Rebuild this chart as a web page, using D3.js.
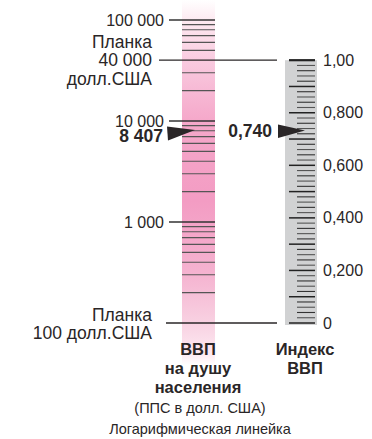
<!DOCTYPE html>
<html>
<head>
<meta charset="utf-8">
<script src="https://cdn.jsdelivr.net/npm/d3@7"></script>
<style>
  html, body { margin: 0; padding: 0; background: #fff; }
  svg { display: block; font-family: "Liberation Sans", Arial, sans-serif; }
</style>
</head>
<body>
<div id="chart"></div>
<script>
// GDP per capita scale (log), labelled decades
const gdpDomain = [100, 100000];
const gdpLabelled = [1000, 10000, 100000];
const gdpLabelText = ['1 000', '10 000', '100 000'];

// Goalposts
const goalValues = [40000, 100];
const goalLines = [['Планка', '40 000', 'долл.США'], ['Планка', '100 долл.США']];

// Country marker
const countryGdp = 8407;
const countryGdpText = '8 407';
const countryIndex = 0.740;
const countryIndexText = '0,740';

// GDP index scale
const indexDomain = [0, 1];
const indexLabelled = [0, 0.2, 0.4, 0.6, 0.8, 1.0];
const indexLabelText = ['0', '0,200', '0,400', '0,600', '0,800', '1,00'];

const W = 372, H = 439;
const INK = '#2a2627';

const svg = d3.select('#chart').append('svg')
  .attr('width', W).attr('height', H);

const y = d3.scaleLog().domain(gdpDomain).range([323, 20]);
const yi = d3.scaleLinear().domain(indexDomain).range([y(100), y(40000)]);

// pink gradient column
const defs = svg.append('defs');
const grad = defs.append('linearGradient')
  .attr('id', 'pink').attr('x1', 0).attr('x2', 0).attr('y1', 0).attr('y2', 1);
[[0, '#ffffff'], [0.06, '#fde8f0'], [0.17, '#f9cadf'], [0.33, '#f5a8ca'],
 [0.55, '#f39cc3'], [0.75, '#f5b3d0'], [0.88, '#f8d0e1'], [0.97, '#fde9f1'], [1, '#ffffff']]
  .forEach(([o, c]) => grad.append('stop').attr('offset', o).attr('stop-color', c));

const px0 = 182, px1 = 215;
svg.append('rect')
  .attr('x', px0).attr('y', 0)
  .attr('width', px1 - px0).attr('height', 365)
  .attr('fill', 'url(#pink)');

// index grey column
const gx0 = 285, gx1 = 317;
svg.append('rect')
  .attr('x', gx0).attr('y', yi(1))
  .attr('width', gx1 - gx0).attr('height', yi(0) - yi(1) + 2)
  .attr('fill', '#d1d2d3');

// log ticks
const gdpTicks = y.ticks().filter(v => !goalValues.includes(v));
svg.append('g').selectAll('line')
  .data(gdpTicks)
  .join('line')
  .attr('x1', d => gdpLabelled.includes(d) ? 169 : px0)
  .attr('x2', px1)
  .attr('y1', d => y(d)).attr('y2', d => y(d))
  .attr('stroke', d => gdpLabelled.includes(d) ? '#333' : '#555')
  .attr('stroke-width', d => gdpLabelled.includes(d) ? 1.4 : 1.1);

svg.append('g').selectAll('text')
  .data(gdpLabelled)
  .join('text')
  .attr('x', 164).attr('y', d => y(d)).attr('dy', '0.35em')
  .attr('text-anchor', 'end')
  .attr('font-size', 16).attr('fill', INK)
  .text((d, i) => gdpLabelText[i]);

// goalpost lines + labels
const goalX1 = [159, 166];
const goalOffsets = [[-18, 0, 19], [-8, 10]];
goalValues.forEach((v, i) => {
  svg.append('line')
    .attr('x1', goalX1[i]).attr('x2', 277)
    .attr('y1', y(v)).attr('y2', y(v))
    .attr('stroke', INK).attr('stroke-width', 1.3);
  goalLines[i].forEach((t, j) => {
    svg.append('text')
      .attr('x', 152).attr('y', y(v) + goalOffsets[i][j]).attr('dy', '0.35em')
      .attr('text-anchor', 'end')
      .attr('font-size', 17.5).attr('fill', INK)
      .text(t);
  });
});

// index ticks every 0.02
const idxTicks = yi.ticks(50);
svg.append('g').selectAll('line')
  .data(idxTicks)
  .join('line')
  .attr('x1', d => Math.round(d * 50) % 5 === 0 ? 289 : 297)
  .attr('x2', 315)
  .attr('y1', d => yi(d)).attr('y2', d => yi(d))
  .attr('stroke', (d, i) => Math.round(d * 50) % 5 === 0 ? '#222' : (i % 2 ? '#555' : '#333'))
  .attr('stroke-width', d => d === 1 ? 2.2 : (Math.round(d * 50) % 5 === 0 ? 1.5 : 1.1));

svg.append('g').selectAll('text')
  .data(indexLabelled)
  .join('text')
  .attr('x', 323).attr('y', d => yi(d)).attr('dy', '0.35em')
  .attr('font-size', 16).attr('fill', INK)
  .text((d, i) => indexLabelText[i]);

// arrows
const ay = y(countryGdp);
svg.append('path')
  .attr('d', `M167,${ay - 2} L195,${ay + 1.5} L168,${ay + 12} Z`)
  .attr('fill', INK);
svg.append('text')
  .attr('x', 163).attr('y', ay + 13)
  .attr('text-anchor', 'end')
  .attr('font-size', 17.5).attr('font-weight', 'bold').attr('fill', INK)
  .text(countryGdpText);

const ai = yi(countryIndex);
svg.append('path')
  .attr('d', `M278,${ai - 4} L305,${ai + 2} L278,${ai + 9.5} Z`)
  .attr('fill', INK);
svg.append('text')
  .attr('x', 272).attr('y', ai + 8)
  .attr('text-anchor', 'end')
  .attr('font-size', 17.5).attr('font-weight', 'bold').attr('fill', INK)
  .text(countryIndexText);

// titles
const titleL = ['ВВП', 'на душу', 'населения'];
const titleR = ['Индекс', 'ВВП'];
titleL.forEach((t, i) => {
  svg.append('text')
    .attr('x', 198).attr('y', 349 + i * 19).attr('dy', '0.35em')
    .attr('text-anchor', 'middle')
    .attr('font-size', 16.5).attr('font-weight', 'bold').attr('fill', INK)
    .text(t);
});
titleR.forEach((t, i) => {
  svg.append('text')
    .attr('x', 305).attr('y', 349 + i * 19).attr('dy', '0.35em')
    .attr('text-anchor', 'middle')
    .attr('font-size', 16.5).attr('font-weight', 'bold').attr('fill', INK)
    .text(t);
});
svg.append('text')
  .attr('x', 200).attr('y', 408).attr('dy', '0.35em')
  .attr('text-anchor', 'middle')
  .attr('font-size', 14.5).attr('fill', INK)
  .text('(ППС в долл. США)');
svg.append('text')
  .attr('x', 200).attr('y', 429).attr('dy', '0.35em')
  .attr('text-anchor', 'middle')
  .attr('font-size', 14.5).attr('fill', INK)
  .text('Логарифмическая линейка');
</script>
</body>
</html>
